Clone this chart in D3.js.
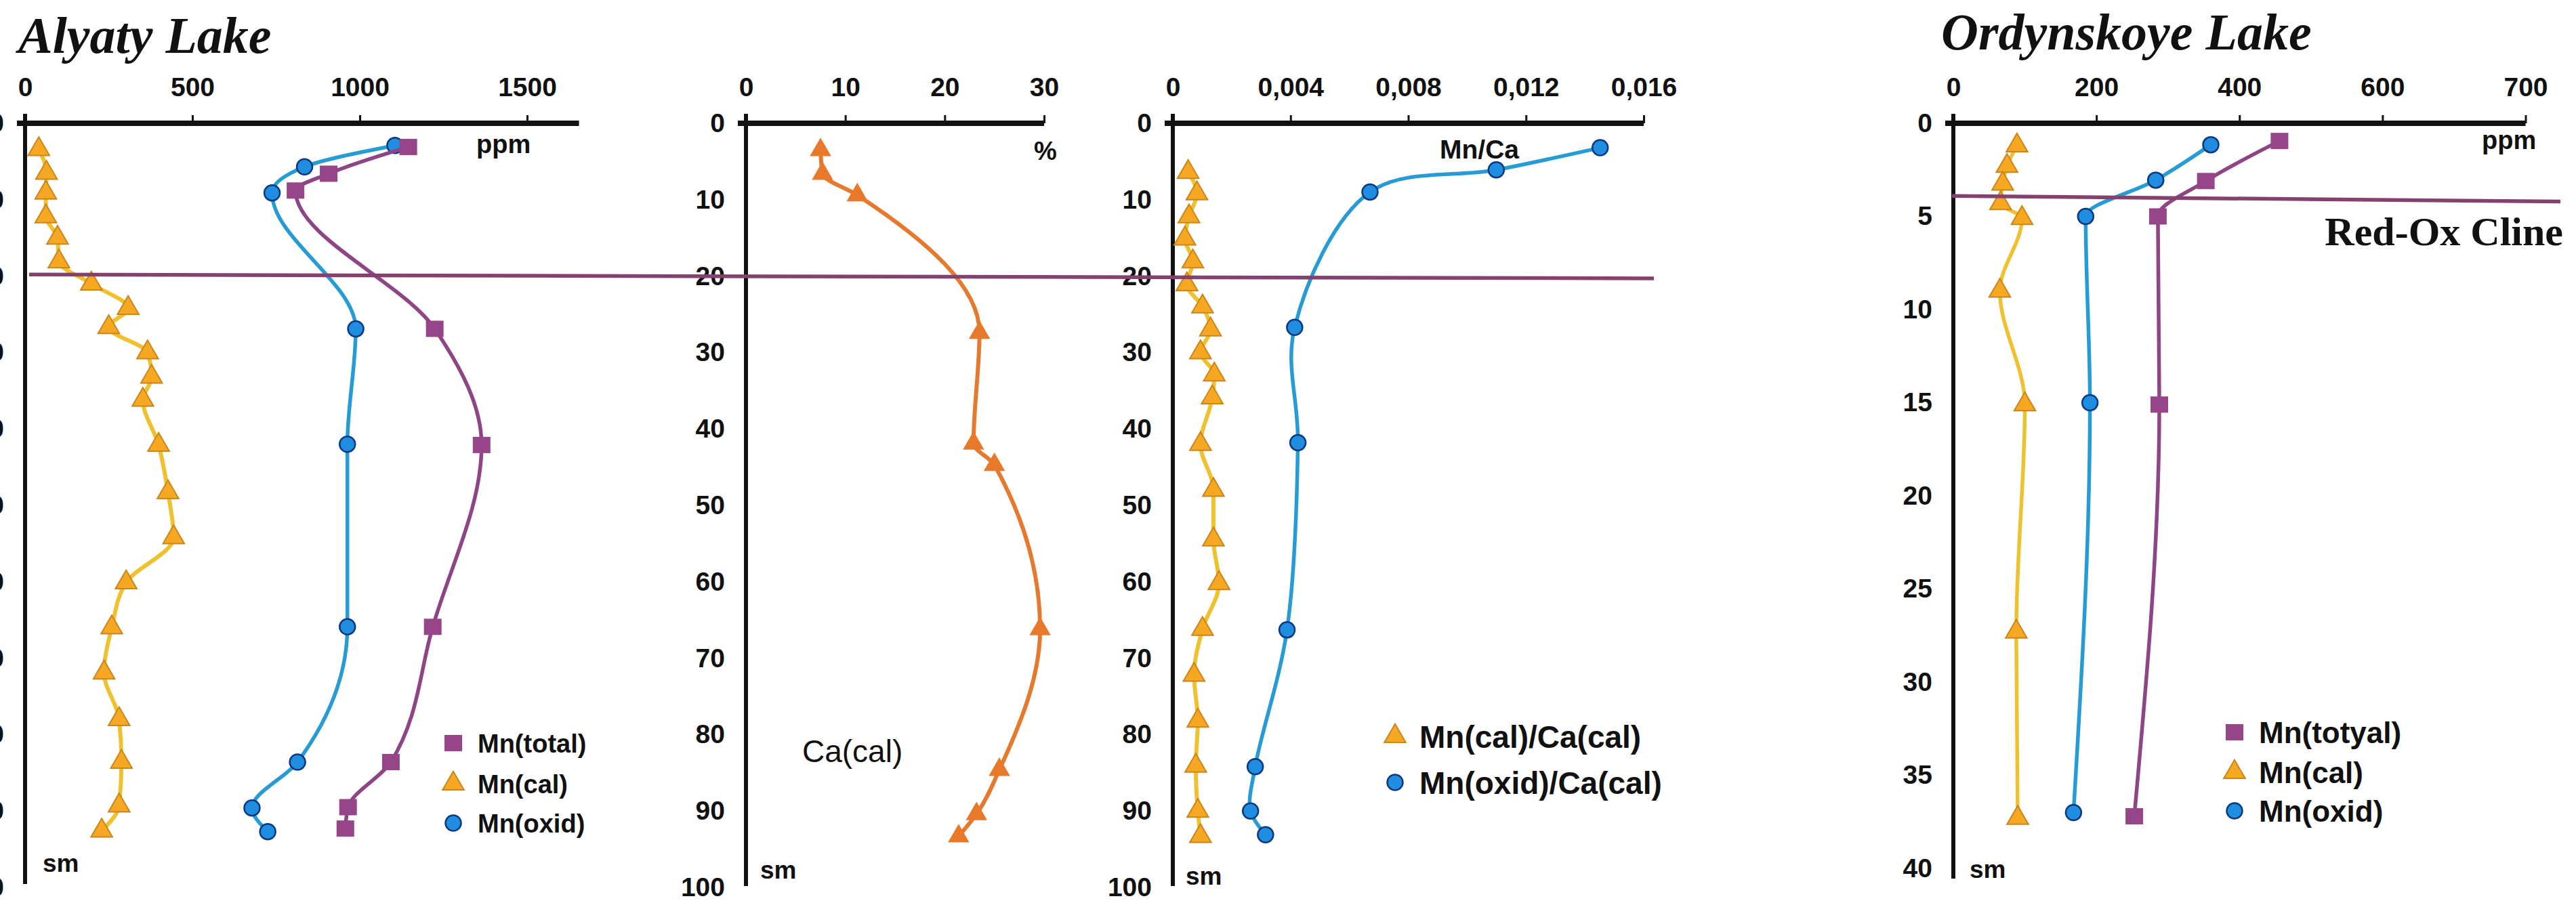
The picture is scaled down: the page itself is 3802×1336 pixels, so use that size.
<!DOCTYPE html>
<html><head><meta charset="utf-8">
<script src="https://cdn.jsdelivr.net/npm/d3@7/dist/d3.min.js"></script>
<style>
html,body{margin:0;padding:0;background:#fff;}
svg{display:block;}
text{font-family:"Liberation Sans",Arial,sans-serif;}
</style></head><body>
<svg id="chart" width="3802" height="1336"></svg>
<script>
// ---------------- DATA ----------------
// Alyaty Lake, panel 1 (ppm)
const alyTotalDepth = [3.1, 6.6, 8.8, 26.9, 42.1, 65.9, 83.6, 89.5, 92.3];
const alyTotal      = [1145, 907, 808, 1224, 1364, 1218, 1093, 965, 957];
const alyOxidDepth  = [2.9, 5.7, 9.1, 26.9, 42.0, 65.9, 83.6, 89.6, 92.7];
const alyOxid       = [1105, 835, 738, 988, 963, 963, 814, 678, 725];
const alyCalDepth   = [3.4, 6.5, 9.1, 12.2, 15.0, 18.1, 21.0, 24.2, 26.7, 30.0, 33.2, 36.2, 42.1, 48.3, 54.2, 60.1, 66.0, 71.9, 78.0, 83.6, 89.3, 92.6];
const alyCal        = [41, 64, 62, 62, 97, 101, 198, 308, 250, 366, 378, 352, 399, 427, 444, 302, 259, 236, 281, 288, 281, 229];
// Alyaty Lake, panel 2 (Ca(cal), %)
const caDepth = [3.5, 6.6, 9.4, 27.4, 41.9, 44.7, 66.2, 84.6, 90.4, 93.3];
const caCal   = [7.5, 7.7, 11.2, 23.5, 22.9, 25.0, 29.6, 25.5, 23.2, 21.4];
// Alyaty Lake, panel 3 (Mn/Ca)
const ratioCalDepth = [6.4, 9.2, 12.2, 15.1, 18.1, 21.1, 24.0, 27.0, 30.0, 32.9, 35.9, 42.0, 48.0, 54.5, 60.2, 66.2, 72.2, 78.2, 84.1, 90.0, 93.3];
const ratioCal      = [0.00052, 0.00082, 0.00055, 0.00041, 0.00068, 0.00048, 0.00101, 0.00128, 0.00094, 0.00141, 0.00134, 0.00094, 0.00138, 0.00138, 0.00157, 0.00101, 0.00072, 0.00085, 0.00078, 0.00085, 0.00094];
const ratioOxidDepth = [3.2, 6.1, 9.0, 26.7, 41.8, 66.3, 84.2, 90.0, 93.1];
const ratioOxid      = [0.01452, 0.01099, 0.0067, 0.00414, 0.00425, 0.00388, 0.0028, 0.00264, 0.00315];
// Ordynskoye Lake, panel 4 (ppm)
const ordTotalDepth = [0.95, 3.1, 5.0, 15.1, 37.2];
const ordTotal      = [456, 353, 286, 288, 253];
const ordOxidDepth  = [1.15, 3.05, 5.0, 15.0, 37.0];
const ordOxid       = [360, 283, 185, 191, 168];
const ordCalDepth   = [1.2, 2.3, 3.25, 4.3, 5.1, 9.0, 15.1, 27.3, 37.3];
const ordCal        = [89, 75, 69, 66, 96, 65, 100, 88, 90];
// Red-ox cline depths (start, end)
const alyRedox = [19.8, 20.3];
const ordRedox = [3.9, 4.2];
// Tick values / labels
const mnTicks = [0, 500, 1000, 1500];
const mnTickLabels = ["0", "500", "1000", "1500"];
const caTicks = [0, 10, 20, 30];
const caTickLabels = ["0", "10", "20", "30"];
const ratioTicks = [0, 0.004, 0.008, 0.012, 0.016];
const ratioTickLabels = ["0", "0,004", "0,008", "0,012", "0,016"];
const ordTicks = [0, 200, 400, 600, 800];
const ordTickLabels = ["0", "200", "400", "600", "700"];
const depthTicksAly = [0, 10, 20, 30, 40, 50, 60, 70, 80, 90, 100];
const depthTicksOrd = [0, 5, 10, 15, 20, 25, 30, 35, 40];
const legendAly = ["Mn(total)", "Mn(cal)", "Mn(oxid)"];
const legendRatio = ["Mn(cal)/Ca(cal)", "Mn(oxid)/Ca(cal)"];
const legendOrd = ["Mn(totyal)", "Mn(cal)", "Mn(oxid)"];

// ---------------- STYLE ----------------
const C = {
  total: {fill: "#974589", line: "#8e4585"},
  oxid: {fill: "#1f8de0", stroke: "#0c3a80", line: "#279bd3"},
  cal: {fill: "#f7a823", stroke: "#c9861c", line: "#efc12f"},
  ca: {fill: "#e8792b", line: "#e57a2e"},
  redox: "#84406f"
};
const TOP = 182;
const svg = d3.select("#chart");
svg.append("rect").attr("width", 3802).attr("height", 1336).attr("fill", "#fff");

const yAly = d3.scaleLinear().domain([0, 100]).range([TOP, 1310]);
const yOrd = d3.scaleLinear().domain([0, 40]).range([TOP, 1282]);
const x1 = d3.scaleLinear().domain([0, 1500]).range([37, 778]);
const x2 = d3.scaleLinear().domain([0, 30]).range([1101, 1541]);
const x3 = d3.scaleLinear().domain([0, 0.016]).range([1731, 2426]);
const x4 = d3.scaleLinear().domain([0, 800]).range([2883, 3727.5]);

const FONT_TICK = 39;
const SANS = '"Liberation Sans", Arial, sans-serif';

function drawAxes(x, y, ticks, labels, axisEnd, depthTicks, yEnd) {
  const g = svg.append("g");
  const ax = g.append("g").attr("transform", `translate(0,${TOP})`)
    .call(d3.axisTop(x).tickValues(ticks).tickFormat((d, i) => labels[i]).tickSize(12).tickPadding(28));
  ax.select(".domain").remove();
  ax.selectAll(".tick line").attr("stroke", "#111").attr("stroke-width", 3)
    .filter(d => d === 0).remove();
  ax.selectAll(".tick text").attr("fill", "#111").style("font-size", FONT_TICK + "px")
    .style("font-weight", "bold").style("font-family", SANS);
  const ay = g.append("g").attr("transform", `translate(${x(0)},0)`)
    .call(d3.axisLeft(y).tickValues(depthTicks).tickSize(0).tickPadding(31));
  ay.select(".domain").remove();
  ay.selectAll(".tick text").attr("fill", "#111").style("font-size", FONT_TICK + "px")
    .style("font-weight", "bold").style("font-family", SANS);
  g.append("line").attr("x1", x(0)).attr("x2", x(0)).attr("y1", TOP - 14).attr("y2", yEnd)
    .attr("stroke", "#111").attr("stroke-width", 6);
  g.append("line").attr("x1", x(0) - 12).attr("x2", x(axisEnd)).attr("y1", TOP).attr("y2", TOP)
    .attr("stroke", "#111").attr("stroke-width", 8);
}

drawAxes(x1, yAly, mnTicks, mnTickLabels, 1655, depthTicksAly, 1305);
drawAxes(x2, yAly, caTicks, caTickLabels, 30, depthTicksAly, 1308);
drawAxes(x3, yAly, ratioTicks, ratioTickLabels, 0.016, depthTicksAly, 1308);
drawAxes(x4, yOrd, ordTicks, ordTickLabels, 800, depthTicksOrd, 1297);

const smooth = d3.curveMonotoneY;
const catmull = d3.curveCatmullRom.alpha(0.5);
function series(x, y, depths, vals, lineColor, lw, marker, st, curve) {
  const pts = depths.map((d, i) => [x(vals[i]), y(d)]);
  svg.append("path").attr("d", d3.line().curve(curve || smooth)(pts)).attr("fill", "none")
    .attr("stroke", lineColor).attr("stroke-width", lw).attr("stroke-linejoin", "round").attr("stroke-linecap", "round");
  const g = svg.append("g");
  pts.forEach(p => markerAt(g, p[0], p[1], marker, st));
}
function markerAt(g, cx, cy, marker, st) {
  if (marker === "square") {
    g.append("rect").attr("x", cx - 13).attr("y", cy - 12).attr("width", 26).attr("height", 24)
      .attr("fill", st.fill);
  } else if (marker === "circle") {
    g.append("ellipse").attr("cx", cx).attr("cy", cy).attr("rx", 11.5).attr("ry", 11.5)
      .attr("fill", st.fill).attr("stroke", st.stroke).attr("stroke-width", 2.5);
  } else if (marker === "tri") {
    g.append("path").attr("transform", `translate(${cx},${cy})`)
      .attr("d", d3.symbol(d3.symbolTriangle, 430)())
      .attr("fill", st.fill).attr("stroke", st.stroke || "none").attr("stroke-width", 2);
  }
}

function redox(x1p, x2p, y, depths) {
  svg.append("line").attr("x1", x1p).attr("x2", x2p).attr("y1", y(depths[0])).attr("y2", y(depths[1]))
    .attr("stroke", C.redox).attr("stroke-width", 5.5);
}

// Panel 1
series(x1, yAly, alyCalDepth, alyCal, C.cal.line, 6, "tri", C.cal);
series(x1, yAly, alyOxidDepth, alyOxid, C.oxid.line, 5.5, "circle", C.oxid);
series(x1, yAly, alyTotalDepth, alyTotal, C.total.line, 5.5, "square", C.total);
// Panel 2
series(x2, yAly, caDepth, caCal, C.ca.line, 6, "tri", {fill: C.ca.fill});
// Panel 3
series(x3, yAly, ratioCalDepth, ratioCal, C.cal.line, 6, "tri", C.cal);
series(x3, yAly, ratioOxidDepth, ratioOxid, C.oxid.line, 5.5, "circle", C.oxid, catmull);
// Panel 4
series(x4, yOrd, ordCalDepth, ordCal, C.cal.line, 5.5, "tri", C.cal);
series(x4, yOrd, ordOxidDepth, ordOxid, C.oxid.line, 5.5, "circle", C.oxid);
series(x4, yOrd, ordTotalDepth, ordTotal, C.total.line, 5.5, "square", C.total);

redox(43, 2441, yAly, alyRedox);
redox(2881, 3779, yOrd, ordRedox);

function txt(x, y, s, size, opts = {}) {
  return svg.append("text").attr("x", x).attr("y", y).text(s)
    .style("font-size", size + "px").style("font-weight", opts.weight || "bold")
    .style("font-style", opts.style || "normal")
    .style("font-family", opts.family || SANS)
    .attr("text-anchor", opts.anchor || "start").attr("fill", "#111");
}
const serif = '"Liberation Serif", "Times New Roman", serif';
txt(27, 78, "Alyaty Lake", 76, {style: "italic", family: serif});
txt(2865, 73, "Ordynskoye Lake", 76, {style: "italic", family: serif});
txt(3783, 362, "Red-Ox Cline", 60, {family: serif, anchor: "end"});
txt(703, 226, "ppm", 38);
txt(1526, 236, "%", 38);
txt(2125, 234, "Mn/Ca", 39);
txt(3663, 220, "ppm", 38);
txt(63, 1287, "sm", 37);
txt(1122, 1297, "sm", 37);
txt(1750, 1306, "sm", 37);
txt(2907, 1296, "sm", 37);
txt(1184, 1125, "Ca(cal)", 46, {weight: "normal"});

function legend(x, ys, labels, markers, styles, size) {
  const g = svg.append("g");
  labels.forEach((l, i) => {
    markerAt(g, x, ys[i], markers[i], styles[i]);
    txt(x + 36, ys[i] + size * 0.36, l, size);
  });
}
legend(669, [1097, 1157, 1215], legendAly, ["square", "tri", "circle"], [C.total, C.cal, C.oxid], 38);
legend(2059, [1087, 1155], legendRatio, ["tri", "circle"], [C.cal, C.oxid], 46);
legend(3298, [1081, 1140, 1197], legendOrd, ["square", "tri", "circle"], [C.total, C.cal, C.oxid], 44);
</script>
</body></html>
